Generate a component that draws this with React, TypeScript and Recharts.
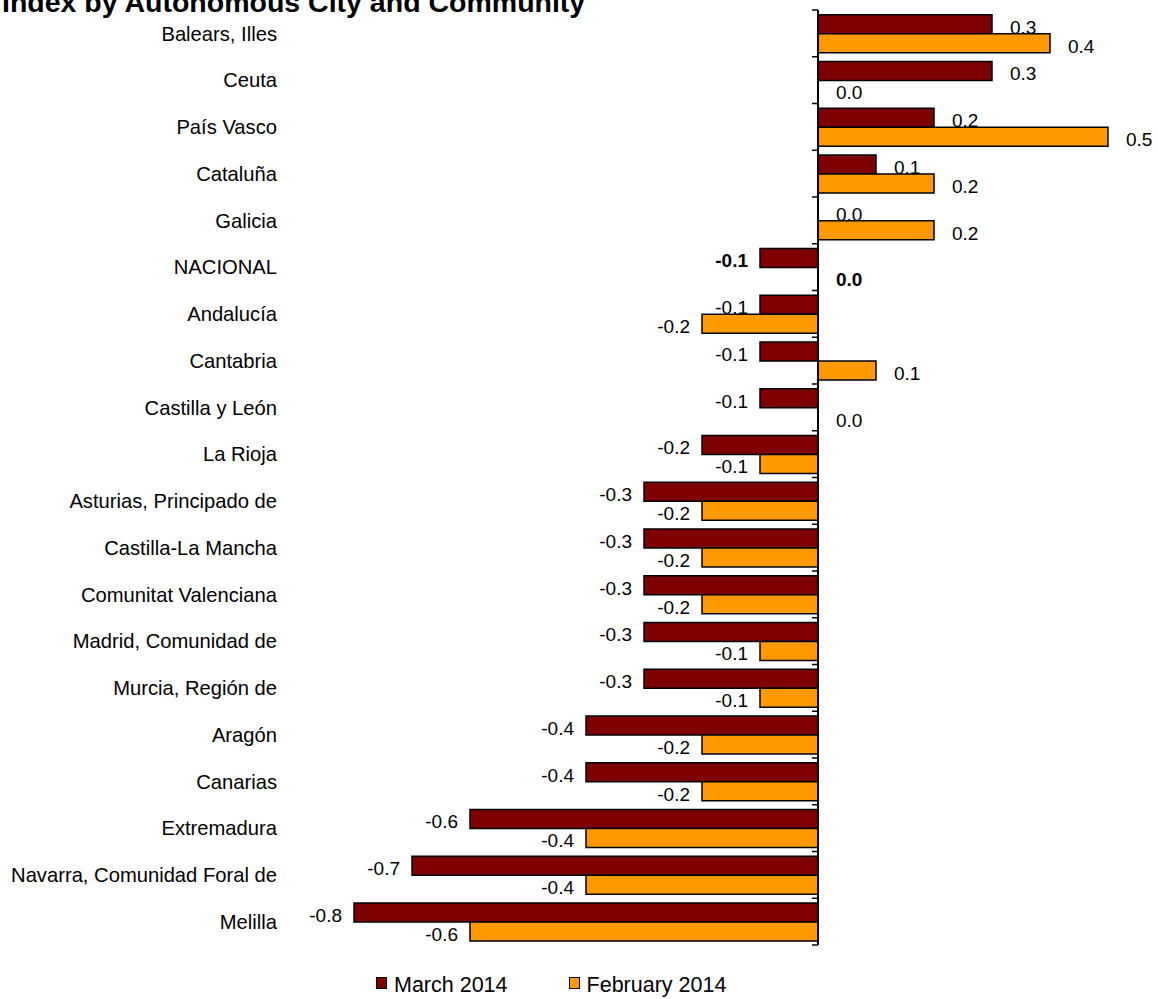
import React from 'react';
import { Bar, BarChart, LabelList, ReferenceLine, Rectangle, XAxis, YAxis } from 'recharts';

const regions = [
  'Balears, Illes',
  'Ceuta',
  'País Vasco',
  'Cataluña',
  'Galicia',
  'NACIONAL',
  'Andalucía',
  'Cantabria',
  'Castilla y León',
  'La Rioja',
  'Asturias, Principado de',
  'Castilla-La Mancha',
  'Comunitat Valenciana',
  'Madrid, Comunidad de',
  'Murcia, Región de',
  'Aragón',
  'Canarias',
  'Extremadura',
  'Navarra, Comunidad Foral de',
  'Melilla',
];

const march2014 = [0.3, 0.3, 0.2, 0.1, 0.0, -0.1, -0.1, -0.1, -0.1, -0.2, -0.3, -0.3, -0.3, -0.3, -0.3, -0.4, -0.4, -0.6, -0.7, -0.8];
const february2014 = [0.4, 0.0, 0.5, 0.2, 0.2, 0.0, -0.2, 0.1, 0.0, -0.1, -0.2, -0.2, -0.2, -0.1, -0.1, -0.2, -0.2, -0.4, -0.4, -0.6];

const seriesNames = ['March 2014', 'February 2014'];
const seriesColors = ['#7f0000', '#ff9900'];
const title = 'Index by Autonomous City and Community';

const font = '"Liberation Sans", Arial, sans-serif';

const data = regions.map((region, i) => ({
  region,
  march: march2014[i],
  february: february2014[i],
}));

function ValueLabel(props: any) {
  const { x, y, width, height, value, index } = props;
  const v = Number(value);
  const left = Math.min(x, x + width);
  const right = Math.max(x, x + width);
  const baseline = y + height / 2 + 9.5;
  const bold = regions[index] === 'NACIONAL';
  return (
    <text
      x={v >= 0 ? right + 18 : left - 12}
      y={baseline}
      textAnchor={v >= 0 ? 'start' : 'end'}
      fontSize={19}
      fontFamily={font}
      fontWeight={bold ? 'bold' : 'normal'}
      fill="#000"
    >
      {v.toFixed(1)}
    </text>
  );
}

// zero bars keep their label but draw nothing
function BarShape(props: any) {
  if (Number(props.value) === 0 || Math.abs(props.width) < 0.5) return <g />;
  return <Rectangle {...props} />;
}

// zero line with small ticks between the regions
function ZeroAxis(props: any) {
  const { x1, y1, x2, y2 } = props;
  const n = regions.length;
  const ticks = Array.from({ length: n + 1 }, (_, i) => y1 + ((y2 - y1) * i) / n);
  return (
    <g>
      <line x1={x1} y1={y1} x2={x2} y2={y2} stroke="#000" strokeWidth={2} />
      {ticks.map((ty, i) => (
        <line key={i} x1={x1 - 6} y1={ty} x2={x1} y2={ty} stroke="#000" strokeWidth={1.5} />
      ))}
    </g>
  );
}

export default function App() {
  return (
    <div
      style={{
        position: 'absolute',
        left: 0,
        top: 0,
        width: 1158,
        height: 999,
        overflow: 'hidden',
        background: '#fff',
        fontFamily: font,
      }}
    >
      <BarChart
        width={1158}
        height={999}
        data={data}
        layout="vertical"
        margin={{ top: 10, right: 50, bottom: 54, left: 0 }}
        barCategoryGap="10%"
        barGap={0}
      >
        <XAxis type="number" domain={[-0.8, 0.5]} hide />
        <YAxis
          type="category"
          dataKey="region"
          width={354}
          axisLine={false}
          tickLine={false}
          tickSize={0}
          tickMargin={77}
          interval={0}
          tick={{ fill: '#000', fontSize: 20.2, fontFamily: font }}
        />
        <Bar
          dataKey="march"
          name={seriesNames[0]}
          fill={seriesColors[0]}
          stroke="#000"
          strokeWidth={1.5}
          minPointSize={0.01}
          shape={BarShape}
          isAnimationActive={false}
        >
          <LabelList dataKey="march" content={ValueLabel} />
        </Bar>
        <Bar
          dataKey="february"
          name={seriesNames[1]}
          fill={seriesColors[1]}
          stroke="#000"
          strokeWidth={1.5}
          minPointSize={0.01}
          shape={BarShape}
          isAnimationActive={false}
        >
          <LabelList dataKey="february" content={ValueLabel} />
        </Bar>
        <ReferenceLine x={0} shape={ZeroAxis} />
      </BarChart>

      <div
        style={{
          position: 'absolute',
          left: 2,
          top: -14,
          fontSize: 28.5,
          fontWeight: 'bold',
          whiteSpace: 'nowrap',
          color: '#000',
        }}
      >
        {title}
      </div>

      <div style={{ position: 'absolute', left: 376, top: 973, display: 'flex', alignItems: 'center', fontSize: 21.5 }}>
        {seriesNames.map((name, i) => (
          <div key={name} style={{ display: 'flex', alignItems: 'center', marginRight: i === 0 ? 61 : 0 }}>
            <span
              style={{
                display: 'inline-block',
                width: 9,
                height: 10,
                background: seriesColors[i],
                border: '1px solid #000',
                marginRight: 7,
                marginTop: -6,
              }}
            />
            <span>{name}</span>
          </div>
        ))}
      </div>
    </div>
  );
}
